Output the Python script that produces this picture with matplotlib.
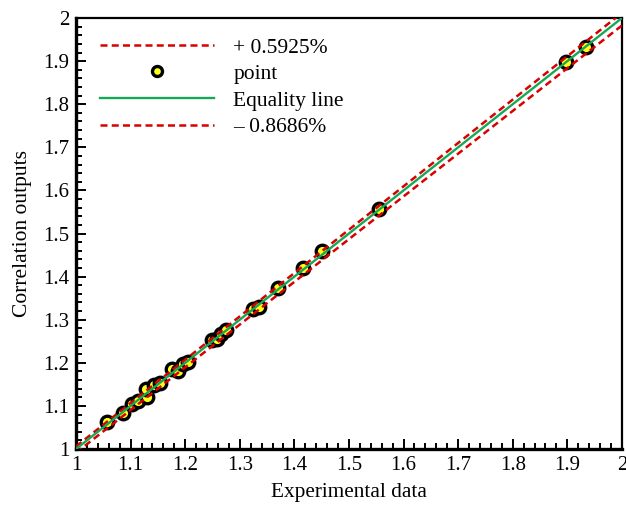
import matplotlib

matplotlib.use("Agg")
import matplotlib.pyplot as plt
import numpy as np
from matplotlib.ticker import FormatStrFormatter, MultipleLocator

plt.rcParams["font.family"] = ["Liberation Serif", "DejaVu Serif"]

# measured vs correlated values
experimental = [
    1.057, 1.086, 1.103, 1.113, 1.130, 1.128, 1.143, 1.154, 1.176, 1.187,
    1.196, 1.205, 1.250, 1.258, 1.265, 1.275, 1.324, 1.335, 1.370, 1.416,
    1.451, 1.555, 1.897, 1.934,
]
correlation = [
    1.062, 1.084, 1.105, 1.112, 1.121, 1.139, 1.148, 1.153, 1.186, 1.180,
    1.197, 1.202, 1.253, 1.255, 1.266, 1.276, 1.325, 1.329, 1.373, 1.420,
    1.459, 1.558, 1.898, 1.933,
]

upper_pct = 0.5925
lower_pct = 0.8686
line_x = [1.0, 2.0]

fig = plt.figure(figsize=(6.26, 5.07), dpi=100)
ax = fig.add_axes([0.1214, 0.1144, 0.872, 0.850])

xs = np.array(line_x)
red = "#d90000"
dash = (0, (2.8, 1.7))
ax.plot(xs, xs * (1 + upper_pct / 100), color=red, linestyle=dash,
        linewidth=1.8, label=f"+ {upper_pct}%", zorder=3)
ax.plot(experimental, correlation, linestyle="none", marker="o", markersize=9,
        markerfacecolor="#ffff1a", markeredgecolor="black", markeredgewidth=2.4,
        label="point", zorder=2)
ax.plot(xs, xs, color="#17a857", linewidth=1.7, label="Equality line", zorder=3)
ax.plot(xs, xs * (1 - lower_pct / 100), color=red, linestyle=dash,
        linewidth=1.8, label=f"\u2013 {lower_pct}%", zorder=3)

ax.set_xlim(1, 2)
ax.set_ylim(1, 2)
ax.xaxis.set_major_locator(MultipleLocator(0.1))
ax.yaxis.set_major_locator(MultipleLocator(0.1))
ax.xaxis.set_minor_locator(MultipleLocator(0.02))
ax.yaxis.set_minor_locator(MultipleLocator(0.02))
ax.xaxis.set_major_formatter(FormatStrFormatter("%g"))
ax.yaxis.set_major_formatter(FormatStrFormatter("%g"))
ax.tick_params(which="both", direction="in", top=False, right=False,
               labelsize=15, width=1.4)
ax.tick_params(which="major", length=7, pad=5)
ax.tick_params(which="minor", length=4)

ax.spines["left"].set_linewidth(2.4)
ax.spines["bottom"].set_linewidth(2.4)
ax.spines["top"].set_linewidth(1.6)
ax.spines["right"].set_linewidth(1.6)

ax.set_xlabel("Experimental data", fontsize=15.3, labelpad=6)
ax.set_ylabel("Correlation outputs", fontsize=15.5, labelpad=8)

ax.legend(loc="upper left", frameon=False, fontsize=15.5, handlelength=5.3,
          handletextpad=0.9, borderaxespad=0.0, labelspacing=0.3,
          numpoints=1, markerscale=0.8, bbox_to_anchor=(0.028, 0.975))

fig.savefig("out.png", dpi=100)
